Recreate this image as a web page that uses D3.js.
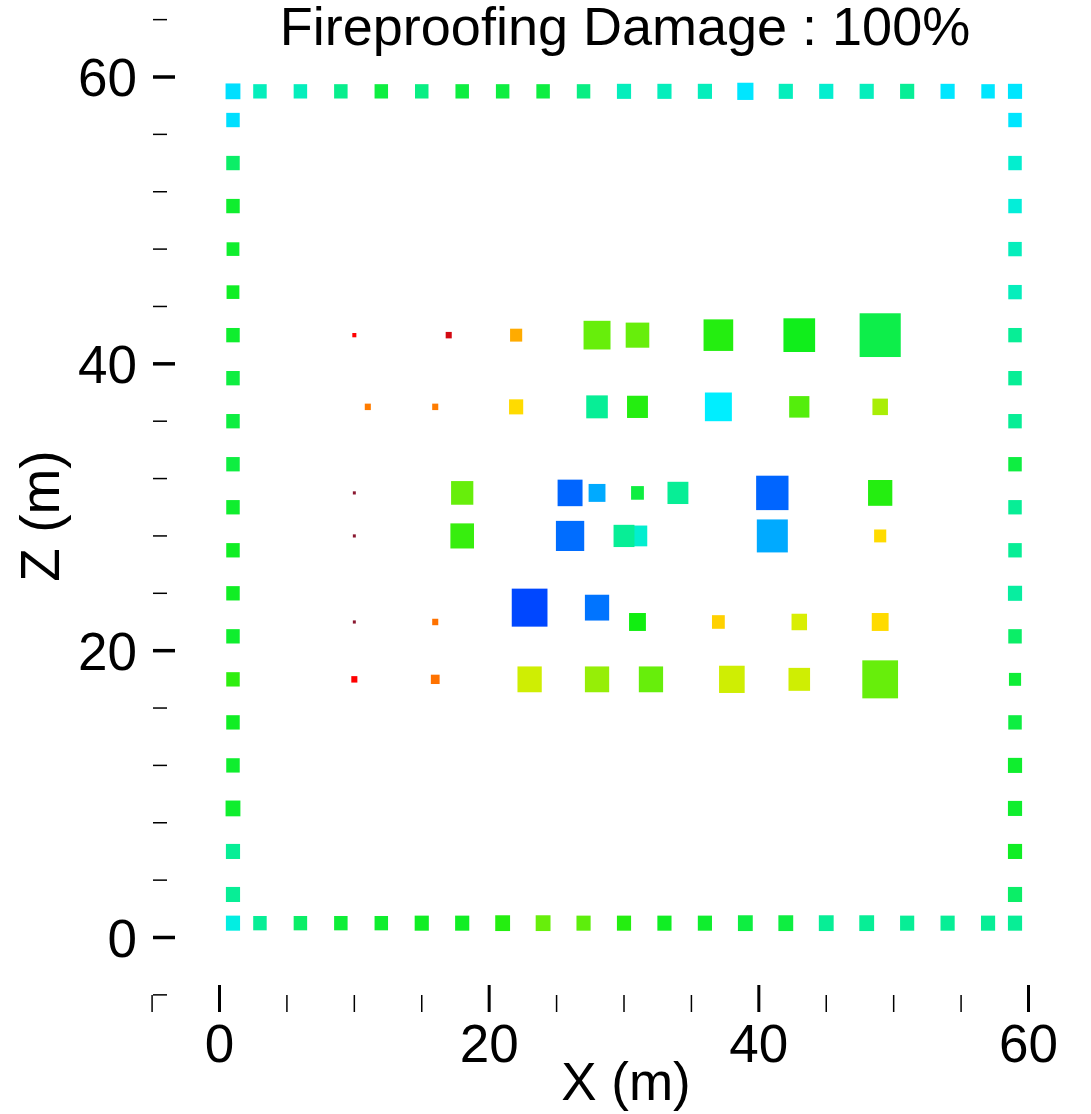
<!DOCTYPE html>
<html>
<head>
<meta charset="utf-8">
<script src="https://cdn.jsdelivr.net/npm/d3@7/dist/d3.min.js"></script>
<style>
    body { margin: 0; background: #fff; }
    text { font-family: "Liberation Sans", Arial, sans-serif; fill: #000; }
</style>
</head>
<body>
<div id="chart"></div>
<script>
// Stations along the perimeter (m)
var edgeStations = [1, 3, 6, 9, 12, 15, 18, 21, 24, 27, 30, 33, 36, 39, 42, 45, 48, 51, 54, 57, 59];
var sideStations = [3, 6, 9, 12, 15, 18, 21, 24, 27, 30, 33, 36, 39, 42, 45, 48, 51, 54, 57];

// Top row (z = 59) and bottom row (z = 1), along edgeStations
var topValue    = [77, 68, 68, 63, 55, 62, 55, 55, 55, 62, 68, 68, 68, 76, 68, 70, 68, 64, 76, 76, 76];
var topSize     = [1.1, 1.0, 1.0, 1.0, 1.0, 1.0, 1.0, 1.0, 1.0, 1.0, 1.05, 1.05, 1.05, 1.2, 1.05, 1.05, 1.05, 1.05, 1.05, 1.0, 1.05];
var bottomValue = [72, 64, 59, 54, 53, 52, 52, 48, 41, 42, 48, 52, 53, 55, 55, 64, 64, 64, 64, 64, 64];
var bottomSize  = [1.05, 1.0, 1.0, 1.0, 1.0, 1.05, 1.05, 1.1, 1.1, 1.05, 1.05, 1.05, 1.05, 1.1, 1.1, 1.1, 1.1, 1.05, 1.05, 1.05, 1.05];

// Left column (x = 1) and right column (x = 59), along sideStations
var leftValue  = [64, 64, 53, 53, 52, 47, 53, 52, 52, 53, 55, 55, 55, 53, 52, 53, 53, 59, 77];
var leftSize   = [1.05, 1.05, 1.1, 1.0, 1.0, 1.0, 1.0, 1.0, 1.0, 1.0, 1.0, 1.0, 1.0, 1.0, 0.95, 0.95, 1.0, 1.0, 1.0];
var rightValue = [59, 52, 53, 53, 55, 54, 59, 65, 64, 64, 55, 64, 64, 64, 68, 68, 71, 70, 76];
var rightSize  = [1.05, 1.05, 1.05, 1.05, 1.0, 0.9, 1.0, 1.05, 1.0, 1.0, 1.0, 1.0, 1.0, 1.0, 1.0, 1.0, 1.0, 1.0, 1.0];

// Interior members
var innerX     = [10, 17, 22, 28, 31, 37, 43, 49,
                  11, 16, 22, 28, 31, 37, 43, 49,
                  10, 18, 26, 28, 31, 34, 41, 49,
                  10, 18, 26, 31, 30, 41, 49,
                  10, 16, 23, 28, 31, 37, 43, 49,
                  10, 16, 23, 28, 32, 38, 43, 49];
var innerZ     = [42, 42, 42, 42, 42, 42, 42, 42,
                  37, 37, 37, 37, 37, 37, 37, 37,
                  31, 31, 31, 31, 31, 31, 31, 31,
                  28, 28, 28, 28, 28, 28, 28,
                  22, 22, 23, 23, 22, 22, 22, 22,
                  18, 18, 18, 18, 18, 18, 18, 18];
var innerSize  = [0.3, 0.45, 0.9, 2.0, 1.75, 2.2, 2.35, 3.05,
                  0.45, 0.45, 1.05, 1.6, 1.55, 2.0, 1.5, 1.15,
                  0.22, 1.65, 1.85, 1.25, 0.95, 1.55, 2.4, 1.8,
                  0.22, 1.75, 2.1, 1.45, 1.55, 2.3, 0.9,
                  0.22, 0.45, 2.65, 1.8, 1.25, 0.95, 1.15, 1.25,
                  0.45, 0.65, 1.8, 1.8, 1.8, 1.9, 1.6, 2.65];
var innerValue = [0, -3, 18, 41, 41, 48, 51, 56,
                  13, 13, 23, 64, 48, 75, 43, 34,
                  -8, 41, 93, 84, 55, 64, 93, 48,
                  -8, 46, 92, 70, 64, 84, 23,
                  -8, 12, 97, 91, 50, 22, 29, 23,
                  0, 12, 30, 36, 41, 30, 30, 41];

var xTicks = [0, 20, 40, 60];
var zTicks = [0, 20, 40, 60];
var xMinor = [-5, 5, 10, 15, 25, 30, 35, 45, 50, 55];
var zMinor = [-4, 4, 8, 12, 16, 24, 28, 32, 36, 44, 48, 52, 56, 64];

var width = 1091,
    height = 1114;

var x = d3.scaleLinear().domain([0, 60]).range([219.5, 1028.5]);
var y = d3.scaleLinear().domain([0, 60]).range([937.5, 77]);

var color = d3.scaleLinear()
    .domain([-8, 0, 25, 50, 75, 100])
    .range(["#8a1830", "#ff0000", "#ffee00", "#11ee11", "#00eeff", "#0030ff"])
    .clamp(true);

// collect every marker into one list
var markers = [];
edgeStations.forEach(function(s, i) {
    markers.push({x: s, z: 59, size: topSize[i], value: topValue[i]});
    markers.push({x: s, z: 1, size: bottomSize[i], value: bottomValue[i]});
});
sideStations.forEach(function(s, i) {
    markers.push({x: 1, z: s, size: leftSize[i], value: leftValue[i]});
    markers.push({x: 59, z: s, size: rightSize[i], value: rightValue[i]});
});
innerX.forEach(function(v, i) {
    markers.push({x: v, z: innerZ[i], size: innerSize[i], value: innerValue[i]});
});

var svg = d3.select("#chart").append("svg")
    .attr("width", width)
    .attr("height", height);

svg.append("rect")
    .attr("width", width)
    .attr("height", height)
    .attr("fill", "#fff");

svg.append("g")
    .selectAll("rect")
    .data(markers)
    .enter().append("rect")
    .attr("x", function(d) { return x(d.x - d.size / 2); })
    .attr("y", function(d) { return y(d.z + d.size / 2); })
    .attr("width", function(d) { return x(d.size) - x(0); })
    .attr("height", function(d) { return y(0) - y(d.size); })
    .attr("fill", function(d) { return color(d.value); });

// x axis: ticks pointing up, no baseline
var xAxis = svg.append("g");
xAxis.selectAll("line.major")
    .data(xTicks)
    .enter().append("line")
    .attr("x1", x).attr("x2", x)
    .attr("y1", 1012).attr("y2", 985)
    .attr("stroke", "#000").attr("stroke-width", 3);
xAxis.selectAll("line.minor")
    .data(xMinor)
    .enter().append("line")
    .attr("x1", x).attr("x2", x)
    .attr("y1", 1012).attr("y2", 995)
    .attr("stroke", "#000").attr("stroke-width", 1.5);
xAxis.selectAll("text")
    .data(xTicks)
    .enter().append("text")
    .attr("x", x)
    .attr("y", 1062)
    .attr("text-anchor", "middle")
    .style("font-size", "53px")
    .text(function(d) { return d; });

// y axis
var yAxis = svg.append("g");
yAxis.selectAll("line.major")
    .data(zTicks)
    .enter().append("line")
    .attr("y1", y).attr("y2", y)
    .attr("x1", 153).attr("x2", 175)
    .attr("stroke", "#000").attr("stroke-width", 3.5);
yAxis.selectAll("line.minor")
    .data(zMinor)
    .enter().append("line")
    .attr("y1", y).attr("y2", y)
    .attr("x1", 153).attr("x2", 167)
    .attr("stroke", "#000").attr("stroke-width", 1.5);
yAxis.selectAll("text")
    .data(zTicks)
    .enter().append("text")
    .attr("x", 137)
    .attr("y", y)
    .attr("dy", "0.36em")
    .attr("text-anchor", "end")
    .style("font-size", "53px")
    .text(function(d) { return d; });

// labels
svg.append("text")
    .attr("x", 626)
    .attr("y", 1100)
    .attr("text-anchor", "middle")
    .style("font-size", "53px")
    .text("X (m)");

svg.append("text")
    .attr("transform", "translate(59,516) rotate(-90)")
    .attr("text-anchor", "middle")
    .style("font-size", "55px")
    .text("Z (m)");

svg.append("text")
    .attr("x", 625)
    .attr("y", 45)
    .attr("text-anchor", "middle")
    .style("font-size", "54px")
    .text("Fireproofing Damage : 100%");
</script>
</body>
</html>
